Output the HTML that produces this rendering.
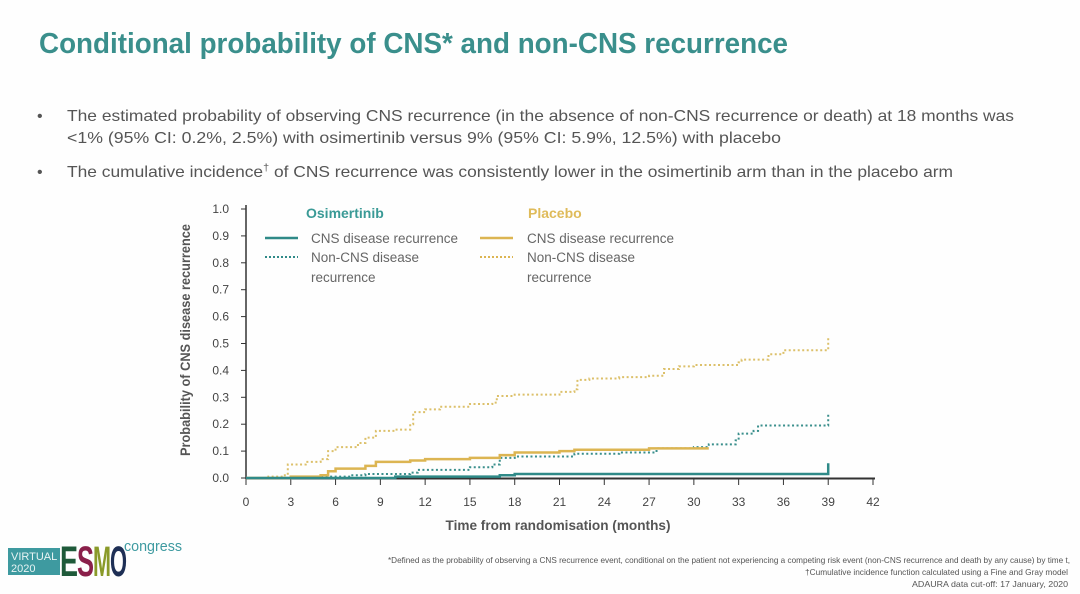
<!DOCTYPE html>
<html><head><meta charset="utf-8"><style>
html,body{margin:0;padding:0;background:#fff;width:1080px;height:594px;overflow:hidden}
svg{display:block}
text{font-family:"Liberation Sans",sans-serif}
</style></head><body>
<svg id="s" width="1080" height="594" viewBox="0 0 1080 594">
<rect width="1080" height="594" fill="#fefefe"/>
<text x="39" y="53" font-size="29" font-weight="bold" fill="#3a8f8c" textLength="749" lengthAdjust="spacingAndGlyphs">Conditional probability of CNS* and non-CNS recurrence</text>
<g font-size="16" fill="#555">
<text x="37" y="121">•</text>
<text x="67" y="121" textLength="947" lengthAdjust="spacingAndGlyphs">The estimated probability of observing CNS recurrence (in the absence of non-CNS recurrence or death) at 18 months was</text>
<text x="67" y="143" textLength="714" lengthAdjust="spacingAndGlyphs">&lt;1% (95% CI: 0.2%, 2.5%) with osimertinib versus 9% (95% CI: 5.9%, 12.5%) with placebo</text>
<text x="37" y="177">•</text>
<text x="67" y="177" textLength="886" lengthAdjust="spacingAndGlyphs">The cumulative incidence<tspan font-size="10" dy="-6">†</tspan><tspan dy="6"> of CNS recurrence was consistently lower in the osimertinib arm than in the placebo arm</tspan></text>
</g>
<g id="ax" stroke="#333" fill="none"></g>
<g id="lb" font-size="12" fill="#444"></g>
<text transform="translate(190,340) rotate(-90)" text-anchor="middle" font-size="14" font-weight="bold" fill="#555" textLength="232" lengthAdjust="spacingAndGlyphs">Probability of CNS disease recurrence</text>
<text x="558" y="530" text-anchor="middle" font-size="14" font-weight="bold" fill="#555" textLength="225" lengthAdjust="spacingAndGlyphs">Time from randomisation (months)</text>
<g font-size="13.5" fill="#666">
<text x="306" y="218" font-weight="bold" fill="#3a9a96" font-size="14">Osimertinib</text>
<text x="528" y="218" font-weight="bold" fill="#dfbb5a" font-size="14">Placebo</text>
<line x1="265" y1="238" x2="298" y2="238" stroke="#2f8a88" stroke-width="2.5"/>
<line x1="265" y1="257" x2="298" y2="257" stroke="#2f8a88" stroke-width="2" stroke-dasharray="2 2"/>
<line x1="480" y1="238" x2="513" y2="238" stroke="#dcb552" stroke-width="2.5"/>
<line x1="480" y1="257" x2="513" y2="257" stroke="#dcb552" stroke-width="2" stroke-dasharray="2 2"/>
<text x="311" y="243">CNS disease recurrence</text>
<text x="311" y="262">Non-CNS disease</text>
<text x="311" y="282">recurrence</text>
<text x="527" y="243">CNS disease recurrence</text>
<text x="527" y="262">Non-CNS disease</text>
<text x="527" y="282">recurrence</text>
</g>
<g id="ser" fill="none"></g>
<rect x="8" y="548" width="52" height="27" fill="#3e9aa0"/>
<text x="11" y="560" font-size="11" fill="#e8f4f4">VIRTUAL</text>
<text x="11" y="572" font-size="11" fill="#e8f4f4">2020</text>
<g font-size="43" font-weight="bold">
<text x="60" y="576" fill="#1f5a3a" textLength="18" lengthAdjust="spacingAndGlyphs">E</text>
<text x="77" y="576" fill="#8a1f4a" textLength="17" lengthAdjust="spacingAndGlyphs">S</text>
<text x="93" y="576" fill="#8a9a2a" textLength="18" lengthAdjust="spacingAndGlyphs">M</text>
<text x="110" y="576" fill="#1e2f55" textLength="17" lengthAdjust="spacingAndGlyphs">O</text>
</g>
<text x="124" y="551" font-size="15" fill="#3e9aa0" textLength="58" lengthAdjust="spacingAndGlyphs">congress</text>
<g font-size="8.5" fill="#555" text-anchor="end">
<text x="1070" y="563" textLength="682" lengthAdjust="spacingAndGlyphs">*Defined as the probability of observing a CNS recurrence event, conditional on the patient not experiencing a competing risk event (non-CNS recurrence and death by any cause) by time t,</text>
<text x="1068" y="575" textLength="263" lengthAdjust="spacingAndGlyphs">†Cumulative incidence function calculated using a Fine and Gray model</text>
<text x="1068" y="587" textLength="156" lengthAdjust="spacingAndGlyphs">ADAURA data cut-off: 17 January, 2020</text>
</g>
</svg>
<script>
var NS="http://www.w3.org/2000/svg";
function X(m){return 246+m*(873-246)/42}
function Y(p){return 478-p*(478-209)}
function el(t,a,p){var e=document.createElementNS(NS,t);for(var k in a)e.setAttribute(k,a[k]);p.appendChild(e);return e}
var ax=document.getElementById('ax'),lb=document.getElementById('lb');
el('line',{x1:246,y1:205,x2:246,y2:479,'stroke-width':1.5},ax);
el('line',{x1:246,y1:478.5,x2:875,y2:478.5,'stroke-width':2},ax);
for(var i=0;i<=10;i++){var y=Y(i/10);el('line',{x1:241,y1:y,x2:246,y2:y},ax);
 var t=el('text',{x:229,y:y+4,'text-anchor':'end'},lb);t.textContent=(i/10).toFixed(1);}
for(var m=0;m<=42;m+=3){var x=X(m);el('line',{x1:x,y1:479,x2:x,y2:485},ax);
 var t=el('text',{x:x,y:506,'text-anchor':'middle'},lb);t.textContent=m;}
function step(d){var s='M'+X(d[0][0])+' '+Y(d[0][1]);for(var i=1;i<d.length;i++){s+=' H'+X(d[i][0])+' V'+Y(d[i][1]);}return s}
var ser=document.getElementById('ser');
var pn=[[0,0],[1.5,0.005],[2.5,0.01],[2.8,0.05],[4,0.06],[5,0.07],[5.5,0.1],[6,0.115],[7.5,0.13],[8,0.15],[8.7,0.175],[10,0.18],[11,0.2],[11.2,0.245],[12,0.255],[13,0.265],[15,0.275],[16.5,0.28],[16.8,0.305],[18,0.31],[21,0.32],[22,0.33],[22.2,0.365],[23,0.37],[25,0.375],[27,0.38],[28,0.405],[29,0.415],[30,0.42],[33,0.43],[33.2,0.44],[35,0.46],[36,0.475],[39,0.48],[39,0.52]];
var pc=[[0,0],[3,0.005],[5,0.01],[5.5,0.025],[6,0.035],[8,0.045],[8.7,0.06],[11,0.065],[12,0.07],[15,0.075],[17,0.085],[18,0.095],[21,0.1],[22,0.105],[27,0.11],[31,0.11]];
var on=[[0,0],[5,0.005],[7,0.01],[8,0.015],[11,0.02],[11.5,0.03],[15,0.04],[16.5,0.05],[17,0.075],[18,0.08],[22,0.09],[25,0.095],[27.5,0.11],[30,0.115],[31,0.125],[32.8,0.14],[33,0.165],[34,0.175],[34.3,0.195],[39,0.2],[39,0.235]];
var oc=[[0,0],[10,0.005],[17,0.01],[18,0.015],[39,0.015],[39,0.055]];
el('path',{d:step(pn),stroke:'#dcc06a','stroke-width':2,'stroke-dasharray':'2 2.5'},ser);
el('path',{d:step(on),stroke:'#3a8f8c','stroke-width':2,'stroke-dasharray':'2 2.5'},ser);
el('path',{d:step(pc),stroke:'#dcb552','stroke-width':2.5},ser);
el('path',{d:step(oc),stroke:'#2f8a88','stroke-width':2.5},ser);
</script>
</body></html>
